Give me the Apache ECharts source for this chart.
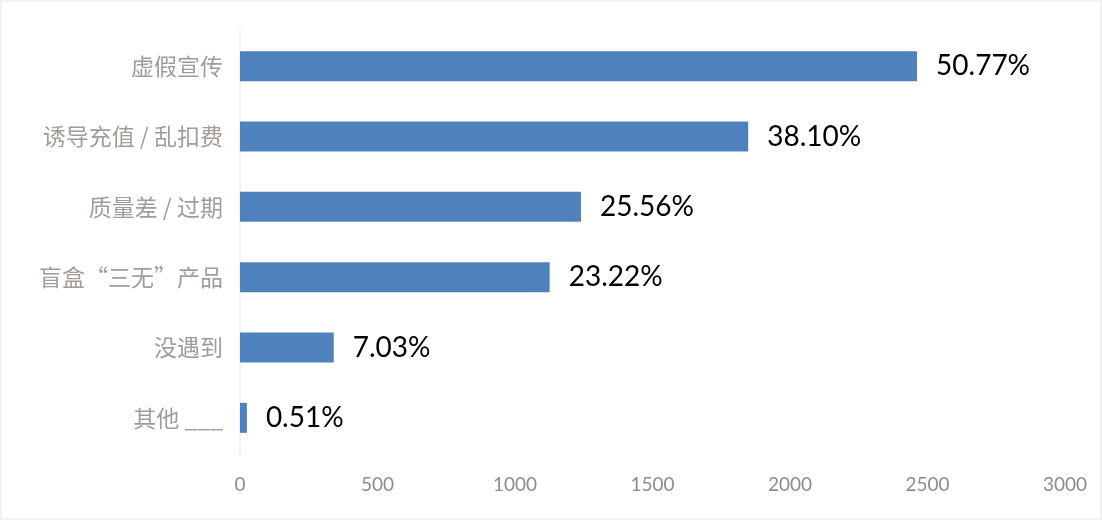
<!DOCTYPE html>
<html>
<head>
<meta charset="utf-8">
<script src="https://cdn.jsdelivr.net/npm/echarts@6/dist/echarts.min.js"></script>
<style>
html,body{margin:0;padding:0;background:#fff;}
#wrap{width:1102px;height:520px;box-sizing:border-box;border:2px solid #f2f2f2;}
#chart{width:1098px;height:516px;}
</style>
</head>
<body>
<div id="wrap"><div id="chart"></div></div>
<script>
var categories = ['虚假宣传', '诱导充值 / 乱扣费', '质量差 / 过期', '盲盒“三无”产品', '没遇到', '其他 ___'];
var values = [2462, 1848, 1240, 1126, 341, 25];
var percentLabels = ['50.77%', '38.10%', '25.56%', '23.22%', '7.03%', '0.51%'];
var xTicks = [0, 500, 1000, 1500, 2000, 2500, 3000];

var chart = echarts.init(document.getElementById('chart'));
chart.setOption({
  animation: false,
  grid: {left: 238, right: 35, top: 29, bottom: 65},
  xAxis: {
    type: 'value', min: xTicks[0], max: xTicks[xTicks.length - 1], interval: 500,
    axisLine: {show: false}, axisTick: {show: false}, splitLine: {show: false},
    axisLabel: {color: '#8c8c8c', fontSize: 19, fontFamily: 'Lato, "Noto Sans", sans-serif', margin: 22,
      formatter: function (v) { return String(v); }}
  },
  yAxis: {
    type: 'category', data: categories, inverse: true,
    axisLine: {show: true, lineStyle: {color: '#f0f0f0', width: 2}},
    axisTick: {show: false},
    axisLabel: {color: '#a19c98', fontSize: 23, fontFamily: '"Noto Sans CJK SC", sans-serif', margin: 17}
  },
  series: [{
    type: 'bar', data: values, barWidth: 30,
    itemStyle: {color: '#4f81bd'},
    label: {
      show: true, position: 'right', distance: 19,
      formatter: function (p) { return percentLabels[p.dataIndex]; },
      color: '#000', fontSize: 28, fontFamily: 'Lato, "Open Sans", sans-serif'
    }
  }]
});
</script>
</body>
</html>
